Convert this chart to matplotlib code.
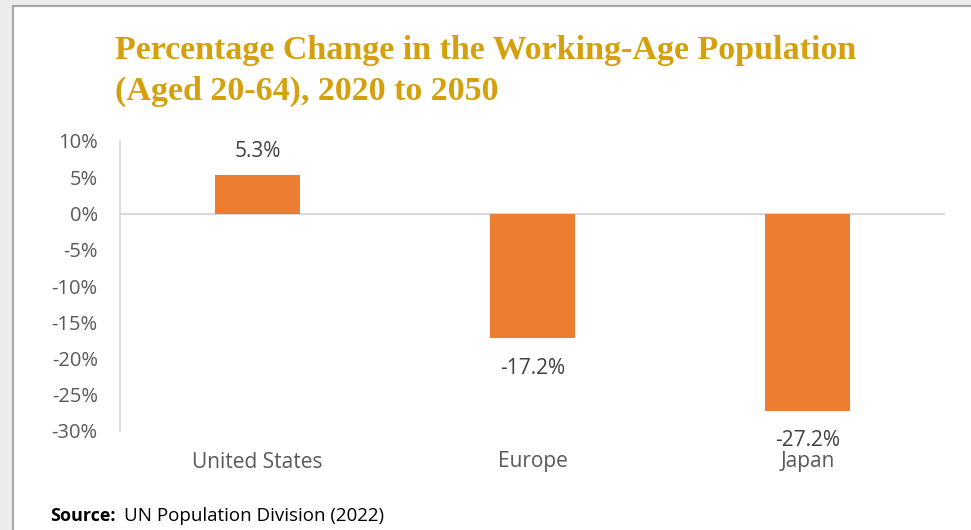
import matplotlib
matplotlib.use("Agg")
import matplotlib.pyplot as plt
from matplotlib.patches import Rectangle
from matplotlib.ticker import FuncFormatter
from matplotlib.transforms import blended_transform_factory

regions = ["United States", "Europe", "Japan"]
change_pct = [5.3, -17.2, -27.2]
y_ticks = [10, 5, 0, -5, -10, -15, -20, -25, -30]

W, H = 971, 530
fig = plt.figure(figsize=(W / 100, H / 100), dpi=100)
fig.patch.set_facecolor("#ececec")

# white chart panel with a grey frame
fig.patches.append(Rectangle((13 / W, -0.01), 1, 1.01 - 6 / H, transform=fig.transFigure,
                             facecolor="white", edgecolor="#a6a6a6", linewidth=1.5, zorder=0))

ax = fig.add_axes([120 / W, 1 - 431 / H, 825 / W, 290 / H])
ax.set_zorder(2)
ax.set_facecolor("none")

ax.bar(range(len(regions)), change_pct, width=0.31, color="#ed7d31", zorder=2)
ax.set_xlim(-0.5, 2.5)
ax.set_ylim(-30, 10)
ax.set_yticks(y_ticks)
ax.yaxis.set_major_formatter(FuncFormatter(lambda v, _: f"{v:.0f}%"))
ax.set_xticks([])

for s in ["top", "right", "bottom"]:
    ax.spines[s].set_visible(False)
ax.spines["left"].set_color("#d9d9d9")
ax.spines["left"].set_linewidth(1.2)
ax.axhline(0, color="#d9d9d9", linewidth=1.5, zorder=1)
ax.tick_params(axis="y", length=0, pad=16, labelsize=14.5, labelcolor="#595959")
for lbl in ax.get_yticklabels():
    lbl.set_fontfamily("Open Sans")

# value labels
for i, v in enumerate(change_pct):
    off = 24 if v > 0 else -30
    ax.annotate(f"{v:.1f}%", (i, v), xytext=(0, off), textcoords="offset pixels",
                ha="center", va="center", fontsize=15, color="#404040", family="Open Sans")

# category labels
cat_tr = blended_transform_factory(ax.transData, fig.transFigure)
for i, name in enumerate(regions):
    ax.text(i, 1 - 462 / H, name, transform=cat_tr, ha="center", va="center",
            fontsize=15, color="#595959", family="Open Sans")

title_kw = dict(fontsize=24.5, fontweight="bold", color="#d4a00b",
                family="Liberation Serif", ha="left", va="center")
fig.text(115 / W, 1 - 51 / H, "Percentage Change in the Working-Age Population", **title_kw)
fig.text(115 / W, 1 - 91 / H, "(Aged 20-64), 2020 to 2050", **title_kw)

fig.text(50 / W, 1 - 516 / H, "Source:", fontsize=13, fontweight="bold",
         color="black", family="Open Sans", ha="left", va="center")
fig.text(124 / W, 1 - 516 / H, "UN Population Division (2022)", fontsize=13.5,
         color="black", family="Open Sans", ha="left", va="center")

fig.savefig("out.png", dpi=100, facecolor=fig.get_facecolor())
